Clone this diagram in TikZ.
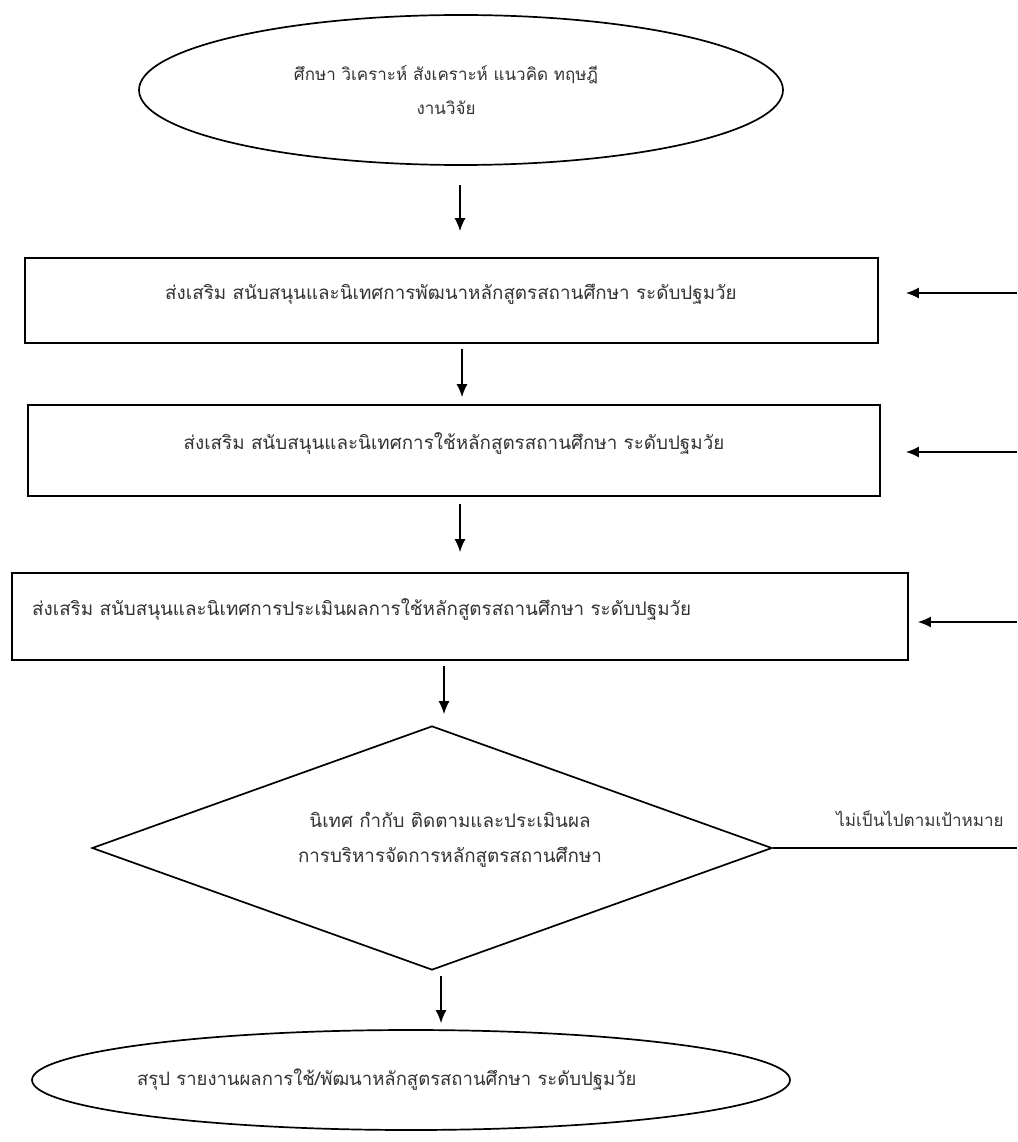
\documentclass[tikz,border=0pt]{standalone}
\usepackage{fontspec}
\newfontfamily\thaifont[Script=Thai]{Loma}
\usetikzlibrary{shapes.geometric,arrows.meta}
\tikzset{
  outlined/.style={draw=black, line width=1.7pt, inner sep=0pt},
  boxnode/.style={outlined, rectangle},
  ovalnode/.style={outlined, ellipse},
  dianode/.style={outlined, diamond},
  txt/.style={font=\thaifont\fontsize{17}{34}\selectfont, text=black!80, inner sep=0pt, align=center},
  bigtxt/.style={txt, font=\thaifont\fontsize{18.8}{35}\selectfont},
  arr/.style={line width=1.6pt, -{Latex[length=13pt,width=11pt]}},
  ln/.style={line width=1.7pt}
}
\begin{document}
\begin{tikzpicture}[x=1pt,y=-1pt]
\useasboundingbox (0,0) rectangle (1017,1142);
\fill[white] (0,0) rectangle (1017,1142);

% nodes
\node[ovalnode, minimum width=644pt, minimum height=150pt] (top) at (461,90) {};
\node[txt] (toptxt) at (446,90) {ศึกษา วิเคราะห์ สังเคราะห์ แนวคิด ทฤษฎี\\งานวิจัย};

\node[boxnode, minimum width=853pt, minimum height=85pt] (b1) at (451.5,300.5) {};
\node[bigtxt] (b1t) at (451,294) {ส่งเสริม สนับสนุนและนิเทศการพัฒนาหลักสูตรสถานศึกษา ระดับปฐมวัย};

\node[boxnode, minimum width=852pt, minimum height=91pt] (b2) at (454,450.5) {};
\node[bigtxt] (b2t) at (454,444) {ส่งเสริม สนับสนุนและนิเทศการใช้หลักสูตรสถานศึกษา ระดับปฐมวัย};

\node[boxnode, minimum width=896pt, minimum height=87pt] (b3) at (460,616.5) {};
\node[bigtxt, anchor=west] (b3t) at (32,610) {ส่งเสริม สนับสนุนและนิเทศการประเมินผลการใช้หลักสูตรสถานศึกษา ระดับปฐมวัย};

\node[dianode, minimum width=680pt, minimum height=244pt] (dia) at (432,848) {};
\node[bigtxt] (diat) at (450,840) {นิเทศ กำกับ ติดตามและประเมินผล\\การบริหารจัดการหลักสูตรสถานศึกษา};

\node[ovalnode, minimum width=758pt, minimum height=100pt] (bot) at (411,1080) {};
\node[bigtxt, font=\thaifont\fontsize{18.5}{34}\selectfont, anchor=west] (bott) at (137,1080) {สรุป รายงานผลการใช้/พัฒนาหลักสูตรสถานศึกษา ระดับปฐมวัย};

\node[txt] (no) at (920,819) {ไม่เป็นไปตามเป้าหมาย};

% vertical arrows
\draw[arr, shorten <=19pt, shorten >=26pt] ([xshift=-1pt]top.south) -- ([xshift=-1pt]top.south |- b1.north);
\draw[arr, shorten <=5pt, shorten >=7pt] ([xshift=10.5pt]b1.south) -- ([xshift=10.5pt]b1.south |- b2.north);
\draw[arr, shorten <=7pt, shorten >=20pt] ([xshift=6pt]b2.south) -- ([xshift=6pt]b2.south |- b3.north);
\draw[arr, shorten <=5pt, shorten >=11pt] ([xshift=-16pt]b3.south) -- ([xshift=-16pt]b3.south |- dia.north);
\draw[arr, shorten <=5pt, shorten >=6pt] ([xshift=9pt]dia.south) -- ([xshift=9pt]dia.south |- bot.north);

% feedback
\coordinate (r1) at (1017,293);
\coordinate (r2) at (1017,452);
\coordinate (r3) at (1017,622);
\coordinate (r4) at (1017,848);
\draw[arr, shorten >=27pt] (r1) -- (r1 -| b1.east);
\draw[arr, shorten >=25pt] (r2) -- (r2 -| b2.east);
\draw[arr, shorten >=9pt] (r3) -- (r3 -| b3.east);
\draw[ln] (dia.east) -- (r4);
\end{tikzpicture}
\end{document}
